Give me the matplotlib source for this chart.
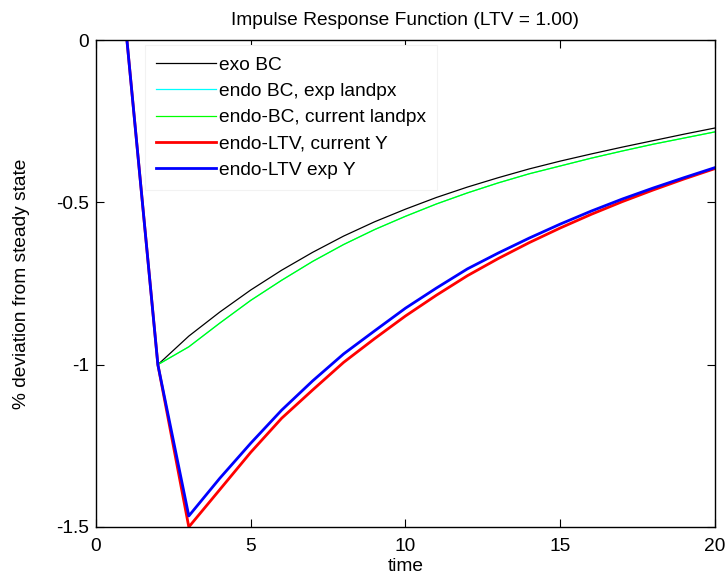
import matplotlib
matplotlib.use("Agg")
import matplotlib.pyplot as plt

plt.rcParams["font.family"] = ["Liberation Sans", "DejaVu Sans"]

# time periods
t = list(range(1, 21))

exo_bc = [0, -1.0, -0.912, -0.838, -0.770, -0.709, -0.654, -0.604, -0.560, -0.521,
          -0.485, -0.453, -0.424, -0.397, -0.373, -0.351, -0.330, -0.310, -0.290, -0.271]
endo_bc_exp = [0, -1.0, -0.945, -0.872, -0.802, -0.740, -0.682, -0.630, -0.584, -0.543,
               -0.505, -0.471, -0.440, -0.412, -0.388, -0.364, -0.342, -0.321, -0.302, -0.283]
endo_bc_cur = [0, -1.0, -0.945, -0.872, -0.802, -0.740, -0.682, -0.630, -0.584, -0.543,
               -0.505, -0.471, -0.440, -0.412, -0.388, -0.364, -0.342, -0.321, -0.302, -0.283]
endo_ltv_cur = [0, -1.0, -1.500, -1.385, -1.270, -1.165, -1.078, -0.993, -0.920, -0.850,
                -0.786, -0.726, -0.673, -0.624, -0.579, -0.537, -0.498, -0.462, -0.428, -0.396]
endo_ltv_exp = [0, -1.0, -1.466, -1.350, -1.242, -1.140, -1.050, -0.967, -0.896, -0.826,
                -0.764, -0.705, -0.656, -0.610, -0.567, -0.527, -0.490, -0.456, -0.424, -0.393]

labels = ["exo BC", "endo BC, exp landpx", "endo-BC, current landpx",
          "endo-LTV, current Y", "endo-LTV exp Y"]

xticks = [0, 5, 10, 15, 20]
yticks = [0, -0.5, -1, -1.5]
yticklabels = ["0", "-0.5", "-1", "-1.5"]

fs = 13.8

fig = plt.figure(figsize=(7.27, 5.74), dpi=100)
ax = fig.add_axes([0.132, 0.0819, 0.8515, 0.8484])

ax.plot(t, exo_bc, color="black", lw=0.9, label=labels[0])
ax.plot(t, endo_bc_exp, color="cyan", lw=0.9, label=labels[1])
ax.plot(t, endo_bc_cur, color="#00ff00", lw=0.9, label=labels[2])
ax.plot(t, endo_ltv_cur, color="red", lw=2.0, label=labels[3])
ax.plot(t, endo_ltv_exp, color="blue", lw=2.0, label=labels[4])

ax.set_xlim(0, 20)
ax.set_ylim(-1.5, 0)
ax.set_xticks(xticks)
ax.set_xticklabels([str(x) for x in xticks])
ax.set_yticks(yticks)
ax.set_yticklabels(yticklabels)
ax.tick_params(direction="in", top=True, right=True, length=6, labelsize=fs,
               width=0.8)
ax.tick_params(axis="x", pad=8)
ax.tick_params(axis="y", pad=5)
for s in ax.spines.values():
    s.set_linewidth(1.0)

ax.set_title("Impulse Response Function (LTV = 1.00)", fontsize=fs, pad=11)
ax.set_xlabel("time", fontsize=fs, labelpad=2)
ax.set_ylabel("% deviation from steady state", fontsize=fs, labelpad=19)

leg = ax.legend(loc="upper left", bbox_to_anchor=(0.079, 0.99), borderaxespad=0,
                fontsize=fs, handlelength=3.1, handletextpad=0.15, labelspacing=0.46,
                fancybox=False, framealpha=1.0, borderpad=0.6)
leg.get_frame().set_edgecolor("#f2f2f2")
leg.get_frame().set_linewidth(0.8)

fig.savefig("out.png", dpi=100)
